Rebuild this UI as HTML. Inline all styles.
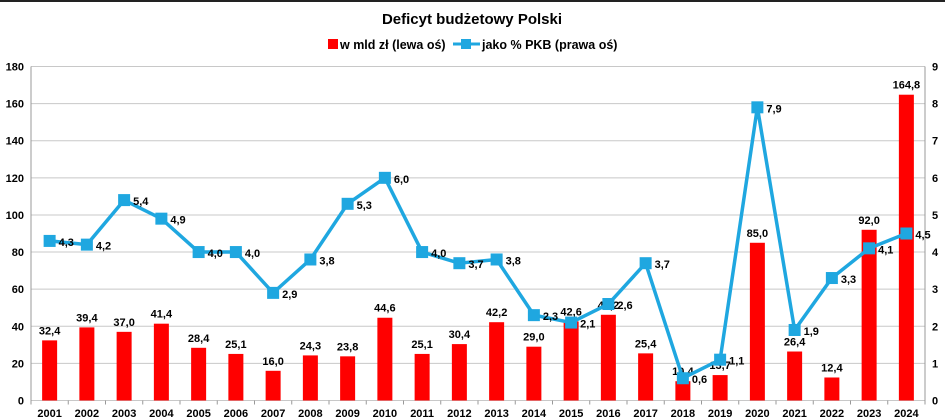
<!DOCTYPE html>
<html><head><meta charset="utf-8"><style>body{margin:0;background:#fff}svg{display:block}text{font-family:"Liberation Sans",sans-serif}</style></head><body>
<svg width="945" height="420" xmlns="http://www.w3.org/2000/svg">
<rect x="0" y="0" width="945" height="2" fill="#222"/>
<text x="472" y="24" text-anchor="middle" font-size="15" font-weight="bold">Deficyt budżetowy Polski</text>
<rect x="328" y="39" width="10" height="10" fill="#f00"/>
<text x="340" y="49" font-size="12.5" font-weight="bold">w mld zł (lewa oś)</text>
<line x1="453" y1="44" x2="480" y2="44" stroke="#1fa7e0" stroke-width="3"/>
<rect x="461" y="39" width="10" height="10" fill="#1fa7e0"/>
<text x="482" y="49" font-size="12.5" font-weight="bold">jako % PKB (prawa oś)</text>
<g id="g"></g>
</svg>
<script>
const s=document.querySelector('svg'),NS='http://www.w3.org/2000/svg';
function el(t,a,txt){const e=document.createElementNS(NS,t);for(const k in a)e.setAttribute(k,a[k]);if(txt!=null)e.textContent=txt;s.appendChild(e);return e;}
const L=31,R=925,T=66.5,B=400.5,w=(R-L)/24;
for(let i=0;i<=9;i++){const y=B-(B-T)*i/9;el('line',{x1:L,x2:R,y1:y,y2:y,stroke:'#c8c8c8','stroke-width':1});
el('text',{x:R+7,y:y+4,'font-size':11,'font-weight':'bold'},i);}
for(let i=0;i<=9;i++){const y=B-(B-T)*i/9;el('text',{x:24,y:y+4,'font-size':11,'font-weight':'bold','text-anchor':'end'},i*20);}
el('line',{x1:L,x2:L,y1:T,y2:B,stroke:'#999'});el('line',{x1:R,x2:R,y1:T,y2:B,stroke:'#999'});
for(let i=0;i<=24;i++){const x=L+w*i;el('line',{x1:x,x2:x,y1:B,y2:B+4,stroke:'#999'});}
const bars=[32.4,39.4,37.0,41.4,28.4,25.1,16.0,24.3,23.8,44.6,25.1,30.4,42.2,29.0,42.6,46.2,25.4,10.4,13.7,85.0,26.4,12.4,92.0,164.8];
const pct=[4.3,4.2,5.4,4.9,4.0,4.0,2.9,3.8,5.3,6.0,4.0,3.7,3.8,2.3,2.1,2.6,3.7,0.6,1.1,7.9,1.9,3.3,4.1,4.5];
const f=v=>v.toFixed(1).replace('.',',');
bars.forEach((v,i)=>{const x=L+w*(i+.5),y=B-v*(B-T)/180;
el('rect',{x:x-7.5,y:y,width:15,height:B-y,fill:'#f00'});
el('text',{x:x,y:y-6,'font-size':11,'font-weight':'bold','text-anchor':'middle'},f(v));
el('text',{x:x,y:417,'font-size':11,'font-weight':'bold','text-anchor':'middle'},2001+i);});
let d='';pct.forEach((v,i)=>{d+=(i?'L':'M')+(L+w*(i+.5))+','+(B-v*(B-T)/9);});
el('path',{d:d,fill:'none',stroke:'#1fa7e0','stroke-width':3.5,'stroke-linejoin':'round'});
pct.forEach((v,i)=>{const x=L+w*(i+.5),y=B-v*(B-T)/9;
el('rect',{x:x-6,y:y-6,width:12,height:12,fill:'#1fa7e0'});
el('text',{x:x+9,y:y+5,'font-size':11,'font-weight':'bold'},f(v));});
</script>
</body></html>
